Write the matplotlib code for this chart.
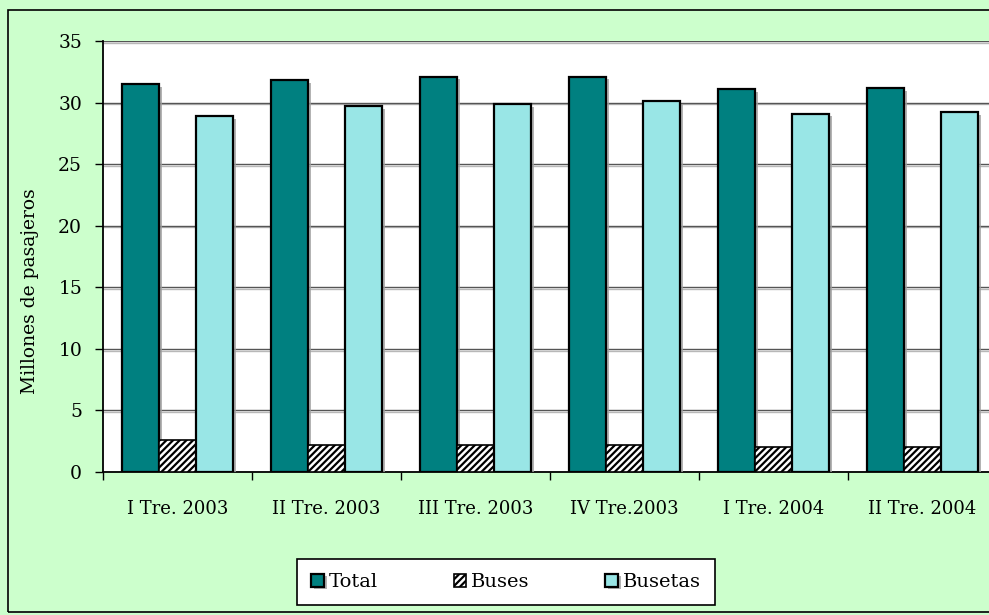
import matplotlib
matplotlib.use("Agg")
import matplotlib.pyplot as plt
import matplotlib.patheffects as pe
from matplotlib.patches import Rectangle
import numpy as np

categories = ["I Tre. 2003", "II Tre. 2003", "III Tre. 2003", "IV Tre.2003", "I Tre. 2004", "II Tre. 2004"]
total = [31.5, 31.8, 32.1, 32.1, 31.1, 31.2]
buses = [2.6, 2.2, 2.2, 2.2, 2.0, 2.0]
busetas = [28.9, 29.7, 29.9, 30.1, 29.1, 29.2]

plt.rcParams['font.family'] = ['DejaVu Serif']
plt.rcParams['hatch.linewidth'] = 1.6

fig = plt.figure(figsize=(9.89, 6.15), dpi=100, facecolor='#CCFFCC')
fig.patches.append(Rectangle((8/989, 3/615), 1.0, 1 - 13/615, transform=fig.transFigure,
                             fill=False, edgecolor='black', linewidth=1.2, zorder=0))

ax = fig.add_axes([103/989, 1 - 472/615, 894/989, (472 - 41)/615])
ax.set_facecolor('white')

x = np.arange(len(categories))
w = 0.25
shadow = [pe.SimplePatchShadow(offset=(2, -2), shadow_rgbFace='#A0A0A0', alpha=0.8), pe.Normal()]

b1 = ax.bar(x - w, total, w, color='#008080', edgecolor='black', linewidth=1.6, label='Total', zorder=3)
b2 = ax.bar(x, buses, w, color='white', edgecolor='black', hatch='/////', linewidth=1.2,
            label='Buses', zorder=3)
b3 = ax.bar(x + w, busetas, w, color='#99E6E6', edgecolor='black', linewidth=1.6, label='Busetas', zorder=3)
for bars in (b1, b3):
    for p in bars:
        p.set_path_effects(shadow)

ax.set_xlim(-0.5, len(categories) - 0.5)
ax.set_ylim(0, 35)
ax.set_yticks(range(0, 36, 5))
ax.yaxis.grid(True, color='#555555', linewidth=1.0,
              path_effects=[pe.SimpleLineShadow(offset=(0, -1.2), shadow_color='#B8B8B8', alpha=1), pe.Normal()])
ax.set_axisbelow(True)

ax.set_xticks(x)
ax.set_xticklabels(categories, fontsize=13)
ax.set_xticks(np.arange(-0.5, len(categories), 1), minor=True)
ax.tick_params(axis='x', which='major', length=0, pad=20)
ax.tick_params(axis='x', which='minor', length=6, width=1, color='black', direction='out')
ax.tick_params(axis='y', length=6, width=1, labelsize=13.5, direction='out', pad=9)

for s in ['top', 'right']:
    ax.spines[s].set_visible(False)
ax.spines['left'].set_linewidth(1.3)
ax.spines['bottom'].set_linewidth(1.3)

ax.set_ylabel('Millones de pasajeros', fontsize=13.5)
ax.yaxis.set_label_coords(-0.072, 0.42)

leg = fig.legend(handles=[b1, b2, b3], labels=['Total', 'Buses', 'Busetas'],
                 loc='center', bbox_to_anchor=((289 + 723) / 2 / 989, 1 - 582 / 615),
                 ncol=3, frameon=True, fancybox=False, edgecolor='black', framealpha=1,
                 fontsize=14, handlelength=0.65, handleheight=0.65, handletextpad=0.25,
                 columnspacing=3.9, borderpad=0.7, borderaxespad=0)
leg.get_frame().set_linewidth(1.2)

fig.savefig('out.png', dpi=100, facecolor=fig.get_facecolor())
